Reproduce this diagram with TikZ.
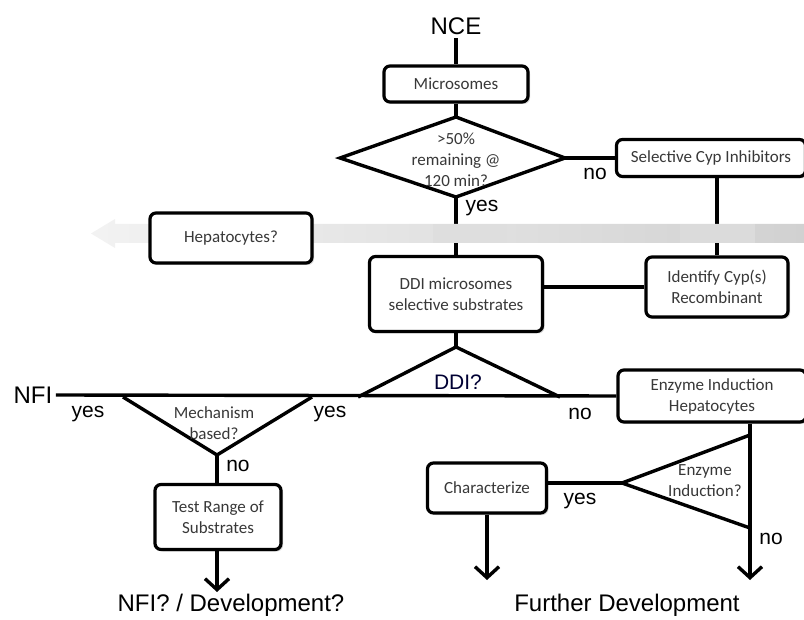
\documentclass[tikz,border=0pt]{standalone}
\usepackage{fontspec}
\setmainfont{Carlito}
\newfontfamily\arialfont{Liberation Sans}
\usetikzlibrary{positioning, arrows.meta, shadows}

\begin{document}
\begin{tikzpicture}[x=1pt, y=-1pt,
    box/.style={draw=black, line width=3.2pt, rounded corners=6pt, fill=white,
        align=center, inner sep=0pt, text=black!78,
        font=\fontsize{17}{21}\selectfont,
        drop shadow={shadow xshift=2pt, shadow yshift=-2pt, opacity=0.3}},
    small/.style={align=center, text=black!78, font=\fontsize{17}{21}\selectfont},
    big/.style={font=\arialfont\fontsize{24}{28}\selectfont},
    lbl/.style={font=\arialfont\fontsize{21}{24}\selectfont},
    link/.style={line width=3.4pt},
    flow/.style={line width=3.4pt, -{Straight Barb[length=11pt, width=24pt, line width=3.4pt]}}]
    \useasboundingbox (0,0) rectangle (804,620);

    % top: screening
    \node[big] (nce) at (456,26) {NCE};
    \node[box, minimum width=144pt, minimum height=36pt] (micro) at (456,84) {Microsomes};
    \coordinate (dtop) at (456,117);
    \coordinate (dright) at (565,158);
    \coordinate (dbot) at (456,197);
    \coordinate (dleft) at (340,158);
    \draw[link, fill=white] (dtop) -- (dright) -- (dbot) -- (dleft) -- cycle;
    \node[small] (remain) at (456,160) {>50\%\\remaining @\\120 min?};
    \node[box, minimum width=189pt, minimum height=37pt] (cyp) at (711,158) {Selective Cyp Inhibitors};
    \node[box, minimum width=173pt, minimum height=75pt] (ddi) at (456,294) {DDI microsomes\\selective substrates};
    \node[box, minimum width=142pt, minimum height=60pt] (ident) at (717,287) {Identify Cyp(s)\\Recombinant};

    \draw[link] (nce) -- (micro);
    \draw[link] (micro) -- (dtop);
    \draw[link] (dright) -- (cyp.west);
    \draw[link] (dbot) -- (ddi);
    \draw[link] (cyp.south -| ident.north) -- (ident.north);
    \draw[link] (ident.west) -- (ident.west -| ddi.east);
    \node[lbl] (no1) at (595,174) {no};
    \node[lbl] (yes1) at (482,208) {yes};

    % grey arrow across
    \shade[left color=gray!10, right color=gray!36]
        (804,224) -- (115,224) -- (115,219) -- (91,233.5) -- (115,248) -- (115,243) -- (804,243) -- cycle;
    \fill[gray!26] (433,224) rectangle (507,243);
    \fill[gray!28] (680,224) rectangle (755,243);
    \node[box, minimum width=162pt, minimum height=50pt] (hep) at (231,238) {Hepatocytes?};

    % DDI decision
    \coordinate (ttop) at (456,347);
    \coordinate (tleft) at (358,397);
    \coordinate (tright) at (560,397);
    \draw[link] (tleft) -- (ttop) -- (tright);
    \draw[link] (ddi) -- (ttop);
    \node[lbl, text=black!80!blue] (ddiq) at (458,382) {DDI?};
    \node[big] (nfi) at (33,395) {NFI};
    \node[box, minimum width=188pt, minimum height=52pt] (enz) at (712,396) {Enzyme Induction\\Hepatocytes};
    \draw[link] (nfi.east) -- (enz.west);
    \node[lbl] (yes2) at (88,414) {yes};
    \node[lbl] (yes3) at (330,414) {yes};
    \node[lbl] (no2) at (580,414) {no};

    % mechanism branch
    \coordinate (mleft) at (123,397);
    \coordinate (mright) at (312,397);
    \coordinate (mbot) at (217,455);
    \draw[link] (mleft) -- (mbot) -- (mright);
    \node[small] (mech) at (214,423) {Mechanism\\based?};
    \node[box, minimum width=126pt, minimum height=65pt] (test) at (218,517) {Test Range of\\Substrates};
    \draw[link] (mbot) -- (mbot |- test.north);
    \node[lbl] (no3) at (238,466) {no};
    \coordinate (end1) at (217,592);
    \draw[flow] (test.south -| mbot) -- (end1);
    \node[big] (dev1) at (231,605) {NFI? / Development?};

    % induction branch
    \coordinate (eup) at (750,435);
    \coordinate (elow) at (750,528);
    \coordinate (eapex) at (622,483);
    \draw[link] (eup) -- (eapex) -- (elow);
    \node[small] (induct) at (705,481) {Enzyme\\Induction?};
    \node[box, minimum width=119pt, minimum height=50pt] (char) at (487,488) {Characterize};
    \draw[link] (eapex) -- (eapex -| char.east);
    \node[lbl] (yes4) at (580,501) {yes};
    \coordinate (end2) at (750,580);
    \draw[flow] (enz.south -| eup) -- (end2);
    \node[lbl] (no4) at (771,539) {no};
    \coordinate (end3) at (487,580);
    \draw[flow] (char.south) -- (end3);
    \node[big] (dev2) at (627,605) {Further Development};
\end{tikzpicture}
\end{document}
